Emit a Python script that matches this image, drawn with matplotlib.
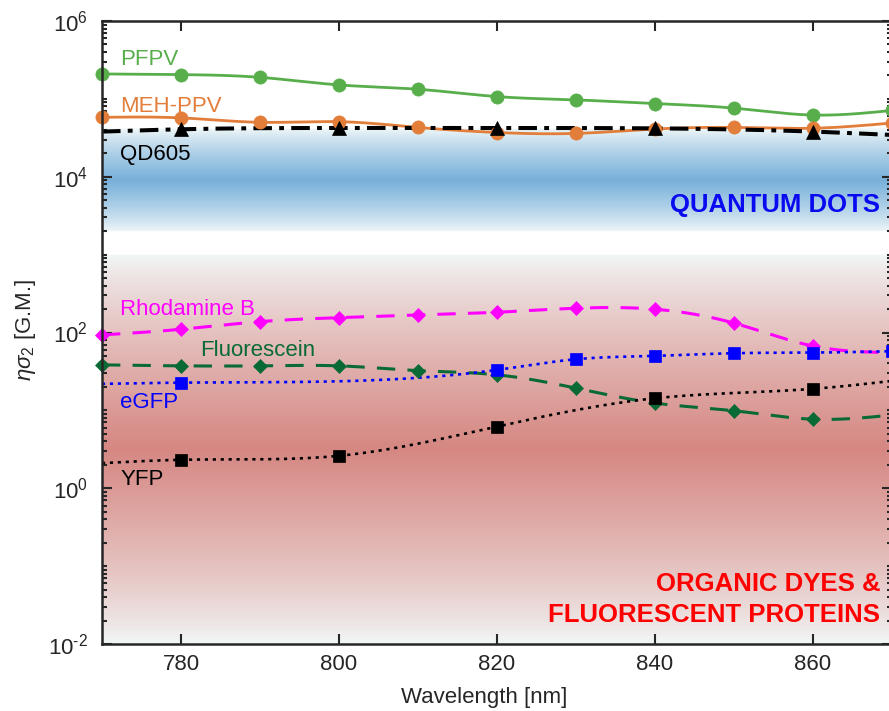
import numpy as np
import matplotlib
matplotlib.use("Agg")
import matplotlib.pyplot as plt
from matplotlib.ticker import FixedLocator, LogLocator, NullFormatter, NullLocator, FuncFormatter

plt.rcParams["font.family"] = ["Liberation Sans", "DejaVu Sans"]
plt.rcParams["mathtext.fontset"] = "custom"
plt.rcParams["mathtext.rm"] = "Liberation Sans"
plt.rcParams["mathtext.it"] = "Liberation Sans:italic"
plt.rcParams["mathtext.bf"] = "Liberation Sans:bold"

# ---- two-photon brightness (eta * sigma2, in GM) vs excitation wavelength ----
wl = [770, 780, 790, 800, 810, 820, 830, 840, 850, 860, 870]

pfpv = [2.09e5, 2.05e5, 1.89e5, 1.51e5, 1.33e5, 1.07e5, 9.7e4, 8.7e4, 7.6e4, 6.2e4, 7.1e4]
meh_ppv = [5.8e4, 5.7e4, 5.0e4, 5.1e4, 4.3e4, 3.7e4, 3.6e4, 4.1e4, 4.3e4, 4.2e4, 4.9e4]

qd_wl = [770, 780, 800, 820, 840, 860, 870]
qd605 = [3.8e4, 4.07e4, 4.23e4, 4.23e4, 4.18e4, 3.8e4, 3.44e4]

rhodamine_b = [93, 110, 138, 155, 168, 182, 205, 199, 132, 67, 55]
fluorescein = [38.4, 37.3, 37.3, 37.3, 32.4, 28.6, 19.3, 12.4, 9.9, 7.7, 8.7]

egfp_wl = [770, 780, 820, 830, 840, 850, 860, 870]
egfp = [21.9, 22.7, 33.1, 45.4, 50.1, 54.2, 55.2, 57.5]

yfp_wl = [770, 780, 800, 820, 840, 860, 870]
yfp = [2.10, 2.32, 2.61, 6.2, 14.3, 18.9, 23.9]

# shaded ranges of typical brightness
qd_band = (2.0e3, 4.2e4)
dye_band = (1e-2, 1e3)

x_ticks = [780, 800, 820, 840, 860]
y_ticks = [1e-2, 1e0, 1e2, 1e4, 1e6]


def natural_spline(x, y, xs):
    """Natural cubic spline through (x, y), evaluated at xs."""
    x = np.asarray(x, float)
    y = np.asarray(y, float)
    n = len(x)
    h = np.diff(x)
    A = np.zeros((n, n))
    r = np.zeros(n)
    A[0, 0] = A[-1, -1] = 1.0
    for i in range(1, n - 1):
        A[i, i - 1] = h[i - 1]
        A[i, i] = 2 * (h[i - 1] + h[i])
        A[i, i + 1] = h[i]
        r[i] = 3 * ((y[i + 1] - y[i]) / h[i] - (y[i] - y[i - 1]) / h[i - 1])
    c = np.linalg.solve(A, r)
    b = (y[1:] - y[:-1]) / h - h * (2 * c[:-1] + c[1:]) / 3
    d = (c[1:] - c[:-1]) / (3 * h)
    idx = np.clip(np.searchsorted(x, xs) - 1, 0, n - 2)
    t = xs - x[idx]
    return y[idx] + b[idx] * t + c[idx] * t ** 2 + d[idx] * t ** 3


fig = plt.figure(figsize=(8.89, 7.11), dpi=100)
ax = fig.add_axes([102 / 889, 67 / 711, 790 / 889, 623 / 711])
ax.set_xlim(770, 870)
ax.set_yscale("log")
ax.set_ylim(1e-2, 1e6)

# vertical colour gradients for the two brightness ranges
ymin_log, ymax_log = -2.0, 6.0
rows = 1200
lv = np.linspace(ymin_log, ymax_log, rows)
img = np.ones((rows, 1, 3))
edge = np.array([0.95, 0.975, 0.975])
for (lo, hi), center in ((qd_band, np.array([0.47, 0.69, 0.855])),
                         (dye_band, np.array([0.84, 0.53, 0.51]))):
    a, b_ = np.log10(lo), np.log10(hi)
    m, hw = (a + b_) / 2, (b_ - a) / 2
    inside = (lv >= a) & (lv <= b_)
    t = np.clip(1 - np.abs(lv - m) / hw, 0, 1) ** 0.8
    col = edge[None, :] + (center - edge)[None, :] * t[:, None]
    img[inside, 0, :] = col[inside]
ax.imshow(img, extent=[0, 1, 0, 1], transform=ax.transAxes, aspect="auto",
          origin="lower", interpolation="bilinear", zorder=0)

xs_dense = np.linspace(770, 870, 600)


def draw(xd, yd, color, ls, lw, marker, ms, mark_idx):
    xd = np.asarray(xd, float)
    yd = np.asarray(yd, float)
    ys = 10 ** natural_spline(xd, np.log10(yd), xs_dense)
    ax.plot(xs_dense, ys, color=color, linestyle=ls, lw=lw, zorder=3,
            solid_capstyle="butt", dash_capstyle="butt")
    ax.plot(xd[mark_idx], yd[mark_idx], linestyle="none", marker=marker, ms=ms,
            color=color, mec=color, mew=0.5, zorder=4, clip_on=False)


green = "#57ae4b"
orange = "#e27d3a"
magenta = "#ff00ff"
dkgreen = "#0a6a36"
blue = "#0000ff"

draw(wl, pfpv, green, "-", 2.0, "o", 9.5, list(range(11)))
draw(wl, meh_ppv, orange, "-", 2.0, "o", 9.5, list(range(11)))
draw(qd_wl, qd605, "black", (0, (4.6, 1.8, 1.2, 1.8)), 2.9, "^", 9.5, [1, 2, 3, 4, 5])
draw(wl, rhodamine_b, magenta, (0, (6.0, 4.0)), 2.2, "D", 7.5, list(range(10)))
draw(wl, fluorescein, dkgreen, (0, (6.0, 4.0)), 2.2, "D", 7.5, list(range(10)))
draw(egfp_wl, egfp, blue, (0, (1.2, 1.8)), 1.9, "s", 8, [1, 2, 3, 4, 5, 6, 7])
draw(yfp_wl, yfp, "black", (0, (1.2, 1.8)), 1.9, "s", 8, [1, 2, 3, 4, 5])

# series labels
lbl = dict(fontsize=16, va="baseline", ha="left", zorder=5)
ax.text(772.3, 2.72e5, "PFPV", color=green, **lbl)
ax.text(772.3, 6.86e4, "MEH-PPV", color=orange, **lbl)
ax.text(772.3, 1.64e4, "QD605", color="black", **lbl)
ax.text(772.3, 168, "Rhodamine B", color=magenta, **lbl)
ax.text(782.4, 50, "Fluorescein", color=dkgreen, **lbl)
ax.text(772.3, 10.7, "eGFP", color=blue, **lbl)
ax.text(772.3, 1.106, "YFP", color="black", **lbl)

# range labels
big = dict(fontsize=18.5, fontweight="bold", ha="right", va="baseline",
           transform=ax.transAxes, zorder=5)
ax.text(0.985, 0.694, "QUANTUM DOTS", color="#0a0af0", **big)
ax.text(0.985, 0.0856, "ORGANIC DYES &", color="#ff0000", **big)
ax.text(0.985, 0.0348, "FLUORESCENT PROTEINS", color="#ff0000", **big)


def pow10_label(v, pos):
    e = int(round(np.log10(v)))
    exp = ("\u2010%d" % -e) if e < 0 else ("%d" % e)
    return r"$\mathregular{10^{%s}}$" % exp


# axes styling
axc = "#262626"
for sp in ax.spines.values():
    sp.set_linewidth(1.8)
    sp.set_color(axc)
    sp.set_zorder(6)
ax.xaxis.set_major_locator(FixedLocator(x_ticks))
ax.xaxis.set_minor_locator(NullLocator())
ax.yaxis.set_major_locator(FixedLocator(y_ticks))
ax.yaxis.set_major_formatter(FuncFormatter(pow10_label))
ax.yaxis.set_minor_locator(LogLocator(base=10, subs=np.arange(1, 10), numticks=50))
ax.yaxis.set_minor_formatter(NullFormatter())
ax.tick_params(which="both", direction="in", top=True, right=True,
               color=axc, labelcolor=axc, labelsize=16, width=1.5)
ax.tick_params(which="major", length=7)
ax.tick_params(which="minor", length=3.5)
ax.tick_params(axis="x", pad=7)
ax.tick_params(axis="y", pad=10)

ax.set_xlabel("Wavelength [nm]", fontsize=16, color=axc)
ax.xaxis.set_label_coords((484 - 102) / 790, (644 - 697) / 623)
ax.xaxis.label.set_va("center")
ax.set_ylabel(r"$\eta\sigma_2$ [G.M.]", fontsize=16, color=axc)
ax.yaxis.set_label_coords((26 - 102) / 790, (644 - 330) / 623)
ax.yaxis.label.set_va("center")

fig.savefig("out.png", dpi=100)
